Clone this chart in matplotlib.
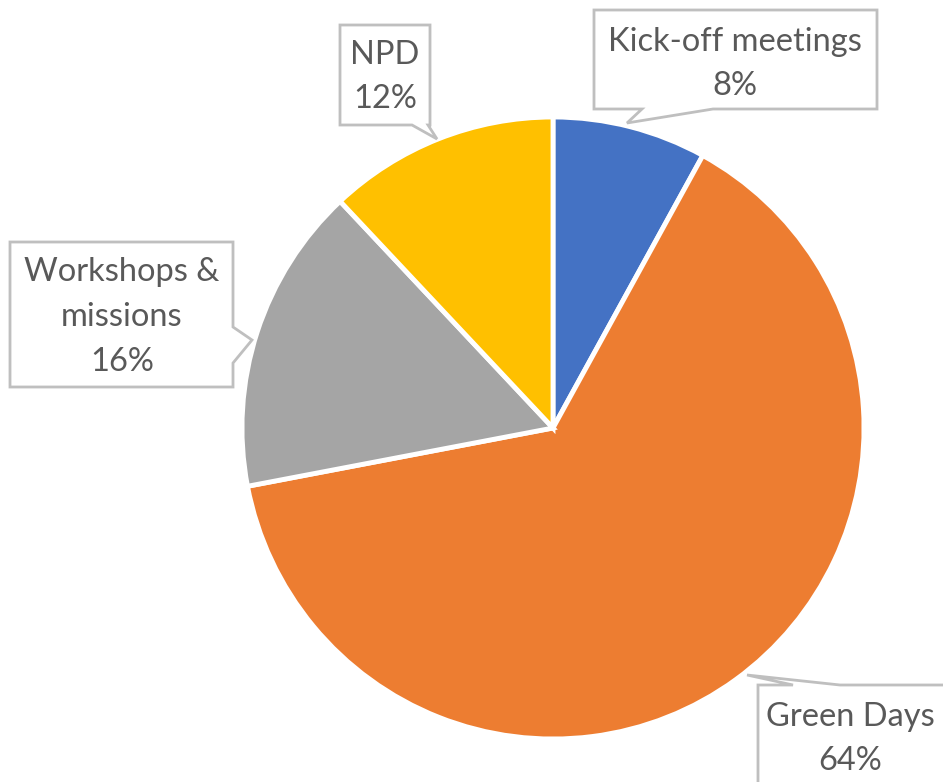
import matplotlib
matplotlib.use("Agg")
import matplotlib.pyplot as plt
from matplotlib.patches import Polygon

categories = ["Kick-off meetings", "Green Days", "Workshops &\nmissions", "NPD"]
values = [8, 64, 16, 12]
colors = ["#4472C4", "#ED7D31", "#A5A5A5", "#FFC000"]

W, H = 943, 782
fig = plt.figure(figsize=(W / 100, H / 100), dpi=100)
plt.rcParams['font.family'] = ['Lato', 'DejaVu Sans']

cx, cy, r = 553, 428, 311
ax = fig.add_axes([(cx - r) / W, (H - cy - r) / H, 2 * r / W, 2 * r / H])
ax.pie(values, colors=colors, startangle=90, counterclock=False,
       wedgeprops=dict(edgecolor="white", linewidth=3.5))
ax.set_xlim(-1, 1)
ax.set_ylim(-1, 1)
ax.axis("off")

ov = fig.add_axes([0, 0, 1, 1], zorder=3)
ov.set_xlim(0, W)
ov.set_ylim(H, 0)
ov.axis("off")

txt_color = "#595959"
edge = "#BFBFBF"
fs = 23.5

# callout shapes (decorative frames)
callouts = [
    [(594, 10), (877, 10), (877, 109), (713, 109), (627, 123), (642, 109), (594, 109)],
    [(340, 25), (430, 25), (430, 125), (428, 125), (437, 139), (412, 125), (340, 125)],
    [(10, 242), (233, 242), (233, 327), (252, 340), (233, 363), (233, 387), (10, 387)],
    [(758, 790), (758, 685), (793, 685), (747, 675), (840, 685), (960, 685), (960, 790)],
]
for pts in callouts:
    ov.add_patch(Polygon(pts, closed=True, facecolor="white", edgecolor=edge,
                         linewidth=2, zorder=3))

pct = [f"{v}%" for v in values]
label_pos = [(735, 64), (850, 739), (122, 317), (385, 77)]
for (x, y), cat, p in zip(label_pos, categories, pct):
    ov.text(x, y, f"{cat}\n{p}", ha="center", va="center", color=txt_color,
            fontsize=fs, linespacing=1.62, zorder=4)

fig.savefig("out.png", dpi=100)
